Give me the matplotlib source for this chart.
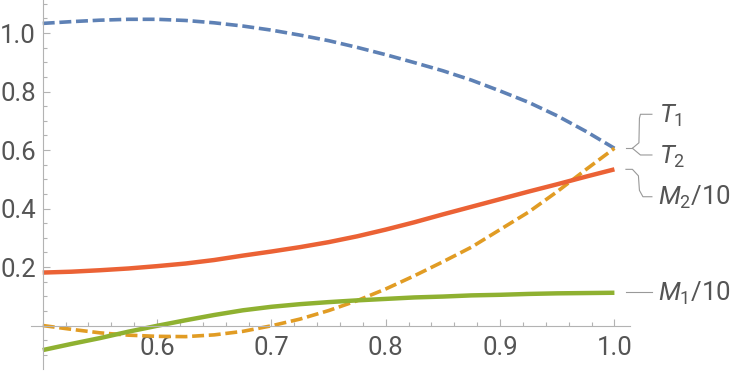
import matplotlib
matplotlib.use("Agg")
import matplotlib.pyplot as plt
from matplotlib.ticker import MultipleLocator
from matplotlib.transforms import IdentityTransform

# ---- data ----
x = [0.5, 0.525, 0.55, 0.575, 0.6, 0.625, 0.65, 0.675, 0.7, 0.725, 0.75,
     0.775, 0.8, 0.825, 0.85, 0.875, 0.9, 0.925, 0.95, 0.975, 1.0]
T1 = [1.033, 1.039, 1.044, 1.047, 1.047, 1.043, 1.035, 1.024, 1.010, 0.993, 0.974,
      0.951, 0.926, 0.899, 0.871, 0.839, 0.802, 0.763, 0.717, 0.664, 0.606]
T2 = [0.0, -0.013, -0.025, -0.033, -0.037, -0.038, -0.032, -0.020, -0.001, 0.022, 0.051,
      0.085, 0.125, 0.170, 0.218, 0.268, 0.328, 0.388, 0.458, 0.533, 0.606]
M1_10 = [-0.084, -0.063, -0.043, -0.021, -0.001, 0.018, 0.036, 0.052, 0.064, 0.073, 0.080,
         0.086, 0.091, 0.096, 0.099, 0.103, 0.105, 0.108, 0.110, 0.111, 0.112]
M2_10 = [0.181, 0.184, 0.189, 0.195, 0.203, 0.212, 0.224, 0.239, 0.253, 0.268, 0.285,
         0.305, 0.328, 0.353, 0.380, 0.406, 0.432, 0.458, 0.483, 0.509, 0.534]
x_ticks = [0.6, 0.7, 0.8, 0.9, 1.0]
x_tick_labels = ["0.6", "0.7", "0.8", "0.9", "1.0"]
y_ticks = [0.2, 0.4, 0.6, 0.8, 1.0]
y_tick_labels = ["0.2", "0.4", "0.6", "0.8", "1.0"]
labels = [r"$T_1$", r"$T_2$", r"$M_2$/10", r"$M_1$/10"]

plt.rcParams["font.family"] = ["Roboto", "DejaVu Sans"]
plt.rcParams["mathtext.fontset"] = "custom"
plt.rcParams["mathtext.rm"] = "Roboto"
plt.rcParams["mathtext.it"] = "Roboto:italic"
plt.rcParams["lines.scale_dashes"] = False

FS = 18.5
W, H = 750, 373
fig = plt.figure(figsize=(W / 100, H / 100), dpi=100)
ax = fig.add_axes([31.3 / W, (H - 368.8) / H, 598.9 / W, 368.8 / H])
ax.set_xlim(0.49, 1.0138)
ax.set_ylim(-0.148, 1.113)

blue, orange, green, red = "#5E81B5", "#E19C24", "#8FB131", "#EB6235"
dash = (0, (8.6, 3.4))
ax.plot(x, T1, color=blue, lw=2.6, linestyle=dash, clip_on=False)
ax.plot(x, T2, color=orange, lw=2.6, linestyle=dash, clip_on=False)
ax.plot(x, M1_10, color=green, lw=3.2, solid_capstyle="butt", clip_on=False)
ax.plot(x, M2_10, color=red, lw=3.2, solid_capstyle="butt", clip_on=False)

axis_col = "#b3b3b3"
text_col = "#555555"
for s in ("top", "right"):
    ax.spines[s].set_visible(False)
ax.spines["left"].set_position(("data", 0.5))
ax.spines["bottom"].set_position(("data", 0.0))
for s in ("left", "bottom"):
    ax.spines[s].set_color(axis_col)
    ax.spines[s].set_linewidth(0.8)

ax.set_xticks(x_ticks)
ax.set_xticklabels(x_tick_labels)
ax.set_yticks(y_ticks)
ax.set_yticklabels(y_tick_labels)
ax.xaxis.set_minor_locator(MultipleLocator(0.02))
ax.yaxis.set_minor_locator(MultipleLocator(0.05))
ax.tick_params(which="both", direction="in", color=axis_col, width=0.8,
               labelcolor=text_col, labelsize=FS)
ax.tick_params(which="major", length=5)
ax.tick_params(which="minor", length=3)
ax.tick_params(axis="y", which="major", pad=5)
ax.tick_params(axis="x", which="major", pad=7.5)
ax.patch.set_alpha(0)

# ---- callout labels with leader lines (pixel offsets from curve ends) ----
fig.canvas.draw()
lead_col = "#999999"

def end_px(series):
    dx, dy = ax.transData.transform((x[-1], series[-1]))
    return dx, dy

def draw(pts, base):
    bx, by = base
    xs = [bx + p[0] for p in pts]
    ys = [by - p[1] for p in pts]
    fig.add_artist(plt.Line2D(xs, ys, transform=IdentityTransform(),
                              color=lead_col, lw=0.8))

def label(txt, base, dx, dy):
    bx, by = base
    fig.text(bx + dx, by - dy, txt, transform=IdentityTransform(),
             ha="left", va="baseline", fontsize=FS, color=text_col)

# T1 / T2 share an end point
b = end_px(T1)
draw([(11.5, 0), (18, 0)], b)
draw([(18, 0), (24.5, -5.5), (25, -30), (26, -34), (37.5, -34)], b)
draw([(18, 0), (26, 6.7), (37.5, 6.7)], b)
label(labels[0], b, 45, -34 + 9)
label(labels[1], b, 45, 6.7 + 8.5)

# M2/10
b = end_px(M2_10)
draw([(11.5, 0), (18, 0), (24, 6.5), (25, 21), (28.5, 27.4), (37.5, 27.4)], b)
label(labels[2], b, 44, 27.4 + 8.5)

# M1/10
b = end_px(M1_10)
draw([(11.5, -0.8), (37.5, -0.8)], b)
label(labels[3], b, 44, -0.8 + 8.5)

fig.savefig("out.png", dpi=100)
